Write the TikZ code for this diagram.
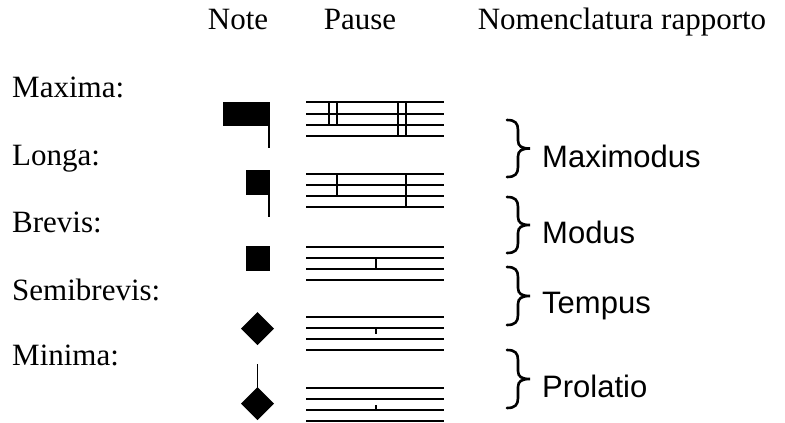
\documentclass[tikz,border=0pt]{standalone}
\usepackage{fontspec}
\setmainfont{Liberation Serif}
\newfontfamily\labsans{Liberation Sans}
\begin{document}
\begin{tikzpicture}[x=1pt,y=-1pt,
  serif/.style={font=\fontsize{31}{37}\selectfont, inner sep=0pt},
  sanslab/.style={font=\labsans\fontsize{31}{37}\selectfont, inner sep=0pt, anchor=base west},
  rowlab/.style={serif, anchor=base west},
  head/.style={serif, anchor=base},
  staffline/.style={line width=1.6pt},
  bar/.style={line width=1.6pt},
  stem/.style={line width=1.8pt},
  bracepath/.style={line width=2.6pt, line cap=round}]
\useasboundingbox (0,0) rectangle (785,423);
% headers
\node[head] (hnote) at (238,30) {Note};
\node[head] (hpause) at (360,30) {Pause};
\node[head] (hnom) at (622,30) {Nomenclatura rapporto};
% row labels
\node[rowlab] (lmax) at (12,97) {Maxima:};
\node[rowlab] (llon) at (12,165) {Longa:};
\node[rowlab] (lbre) at (12,232) {Brevis:};
\node[rowlab] (lsem) at (12,300) {Semibrevis:};
\node[rowlab] (lmin) at (12,365) {Minima:};
% notes
\fill (223,102) rectangle (270,126);
\draw[stem] (269.1,102) -- (269.1,148);
\fill (246,170) rectangle (270,195);
\draw[stem] (269.1,170) -- (269.1,217);
\fill (246,246) rectangle (270,271);
\fill (257.5,312) -- (274,328.5) -- (257.5,345) -- (241,328.5) -- cycle;
\fill (257.5,387) -- (274,403.5) -- (257.5,420) -- (241,403.5) -- cycle;
\draw[stem] (257.5,364) -- (257.5,390);
% staves
\foreach \y in {102,114,125,136, 174,185,196,207, 247,258,269,280, 317,328,339,350, 388,399,410,421}
  \draw[staffline] (306,\y) -- (444,\y);
% rests
\draw[bar] (329,102) -- (329,125);
\draw[bar] (337,102) -- (337,125);
\draw[bar] (398,102) -- (398,136);
\draw[bar] (406,102) -- (406,136);
\draw[bar] (337,174) -- (337,196);
\draw[bar] (406,174) -- (406,207);
\draw[bar] (376,258) -- (376,269);
\draw[bar] (376,328) -- (376,334);
\draw[bar] (376,405) -- (376,410);
% braces
\foreach \t/\b in {120/177, 197/253, 267/325, 350/408}{
  \pgfmathsetmacro{\m}{(\t+\b)/2}
  \draw[bracepath] (507,\t) .. controls (515,\t) and (518,\t+3) .. (518,\t+10)
     -- (518,\m-8) .. controls (518,\m-2) and (522,\m) .. (530,\m)
     .. controls (522,\m) and (518,\m+2) .. (518,\m+8)
     -- (518,\b-10) .. controls (518,\b-3) and (515,\b) .. (507,\b);
}
% ratio names
\node[sanslab] (rmax) at (542,167) {Maximodus};
\node[sanslab] (rmod) at (542,243) {Modus};
\node[sanslab] (rtem) at (542,313) {Tempus};
\node[sanslab] (rpro) at (542,397) {Prolatio};
\end{tikzpicture}
\end{document}
